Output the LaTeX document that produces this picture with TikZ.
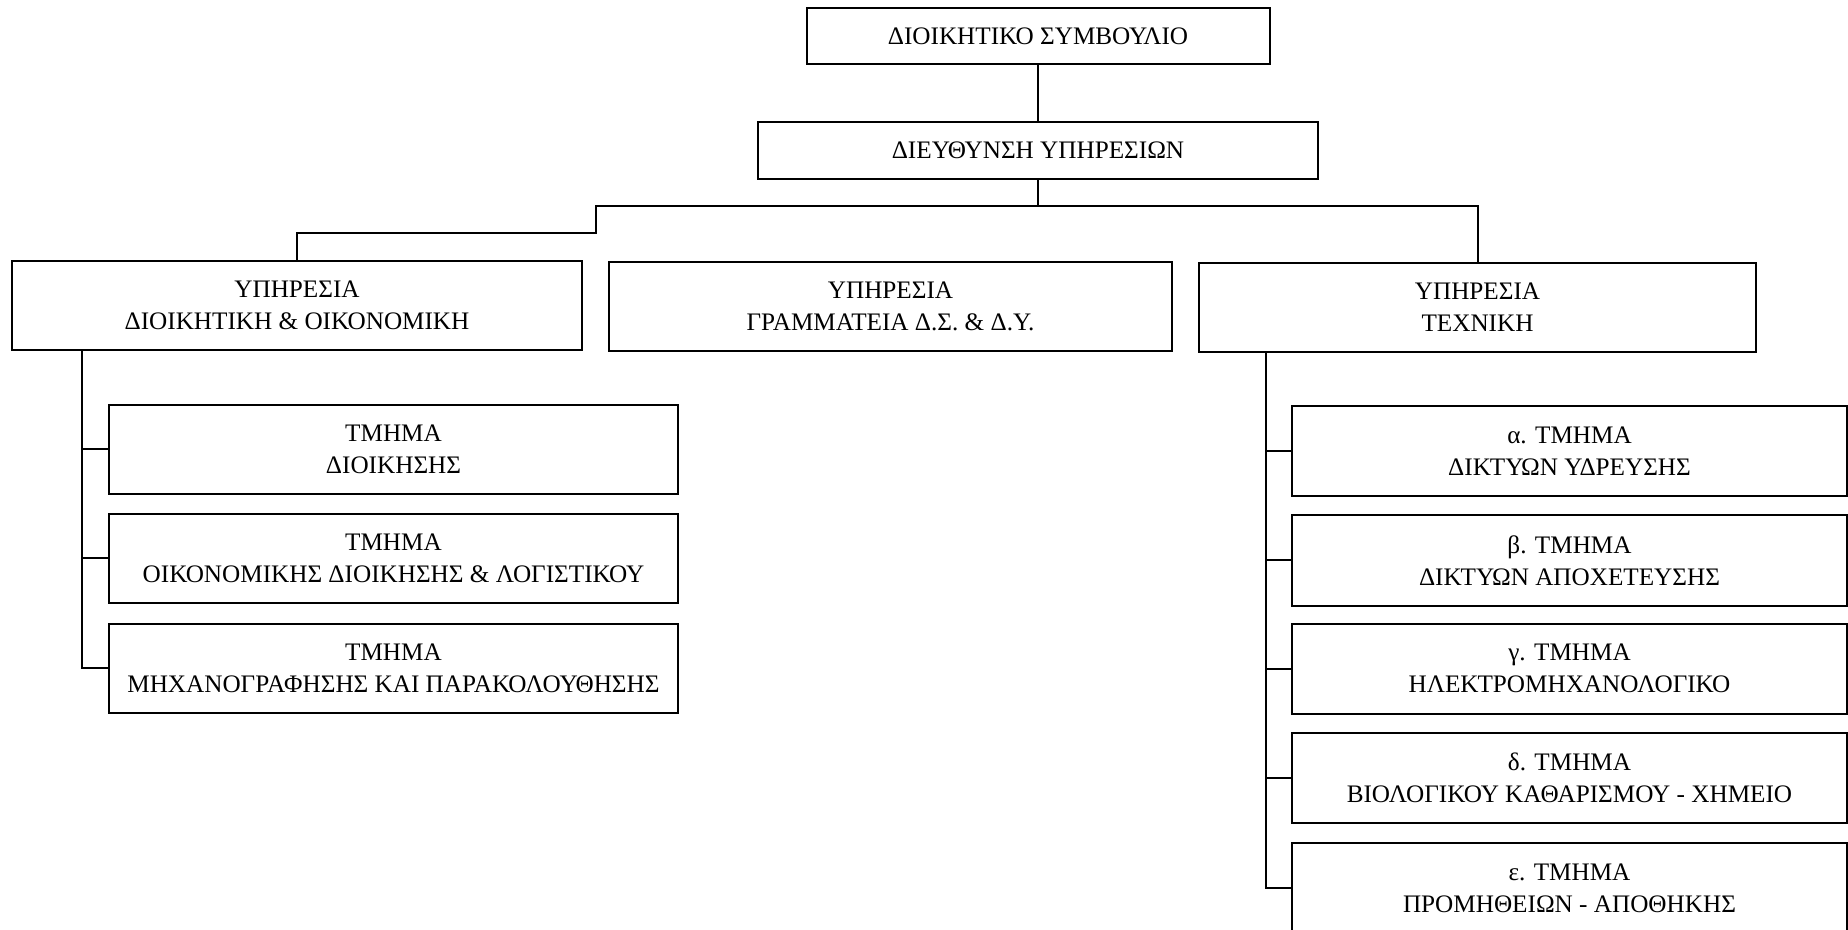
\documentclass[tikz,border=0pt]{standalone}
\usepackage{fontspec}
\setmainfont{Liberation Serif}
\begin{document}
\begin{tikzpicture}[x=0.5pt,y=-0.5pt,
  org/.style={draw, line width=1pt, rectangle, inner sep=0pt, align=center,
    font=\fontsize{12.6}{16}\selectfont},
  top/.style={org, minimum height=28pt},
  svc/.style={org, minimum height=44.5pt},
  sub/.style={org, minimum height=44.5pt},
  link/.style={line width=1pt}]
\useasboundingbox (0,0) rectangle (1848,930);
\fill[white] (0,0) rectangle (1848,930);
% top levels
\node[top, minimum width=231.5pt] (dsb) at (1038,36) {ΔΙΟΙΚΗΤΙΚΟ ΣΥΜΒΟΥΛΙΟ};
\node[top, minimum width=280pt, minimum height=28.5pt] (dy) at (1038,150.5) {ΔΙΕΥΘΥΝΣΗ ΥΠΗΡΕΣΙΩΝ};
% services
\node[svc, minimum width=285pt] (ydo) at (297,305.5) {ΥΠΗΡΕΣΙΑ\\ΔΙΟΙΚΗΤΙΚΗ \& ΟΙΚΟΝΟΜΙΚΗ};
\node[svc, minimum width=281.5pt] (ygr) at (890.5,306.5) {ΥΠΗΡΕΣΙΑ\\ΓΡΑΜΜΑΤΕΙΑ Δ.Σ. \& Δ.Υ.};
\node[svc, minimum width=278.5pt] (ytx) at (1477.5,307.5) {ΥΠΗΡΕΣΙΑ\\ΤΕΧΝΙΚΗ};
% left departments
\node[sub, minimum width=284.5pt] (l1) at (393.5,449.5) {ΤΜΗΜΑ\\ΔΙΟΙΚΗΣΗΣ};
\node[sub, minimum width=284.5pt] (l2) at (393.5,558.5) {ΤΜΗΜΑ\\ΟΙΚΟΝΟΜΙΚΗΣ ΔΙΟΙΚΗΣΗΣ \& ΛΟΓΙΣΤΙΚΟΥ};
\node[sub, minimum width=284.5pt] (l3) at (393.5,668) {ΤΜΗΜΑ\\ΜΗΧΑΝΟΓΡΑΦΗΣΗΣ ΚΑΙ ΠΑΡΑΚΟΛΟΥΘΗΣΗΣ};
% right departments
\node[sub, minimum width=277.5pt, minimum height=45pt] (r1) at (1569.5,451.5) {α. ΤΜΗΜΑ\\ΔΙΚΤΥΩΝ ΥΔΡΕΥΣΗΣ};
\node[sub, minimum width=277.5pt, minimum height=45pt] (r2) at (1569.5,560.5) {β. ΤΜΗΜΑ\\ΔΙΚΤΥΩΝ ΑΠΟΧΕΤΕΥΣΗΣ};
\node[sub, minimum width=277.5pt, minimum height=45pt] (r3) at (1569.5,668.5) {γ. ΤΜΗΜΑ\\ΗΛΕΚΤΡΟΜΗΧΑΝΟΛΟΓΙΚΟ};
\node[sub, minimum width=277.5pt, minimum height=45pt] (r4) at (1569.5,778) {δ. ΤΜΗΜΑ\\ΒΙΟΛΟΓΙΚΟΥ ΚΑΘΑΡΙΣΜΟΥ - ΧΗΜΕΙΟ};
\node[sub, minimum width=277.5pt, minimum height=45pt] (r5) at (1569.5,888) {ε. ΤΜΗΜΑ\\ΠΡΟΜΗΘΕΙΩΝ - ΑΠΟΘΗΚΗΣ};
% connectors top
\coordinate (jl) at (596,206);
\coordinate (js) at (596,233);
\draw[link] (dsb.south) -- (dy.north);
\draw[link] (dy.south) -- (dy.south |- jl);
\draw[link] (ytx.north) |- (jl) -- (js) -| (ydo.north);
% left subtree
\coordinate (lt) at (82,0);
\draw[link] (lt |- ydo.south) |- (l3.west);
\draw[link] (lt |- l1.west) -- (l1.west);
\draw[link] (lt |- l2.west) -- (l2.west);
% right subtree
\coordinate (rt) at (1266,0);
\draw[link] (rt |- ytx.south) |- (r5.west);
\draw[link] (rt |- r1.west) -- (r1.west);
\draw[link] (rt |- r2.west) -- (r2.west);
\draw[link] (rt |- r3.west) -- (r3.west);
\draw[link] (rt |- r4.west) -- (r4.west);
\end{tikzpicture}
\end{document}
